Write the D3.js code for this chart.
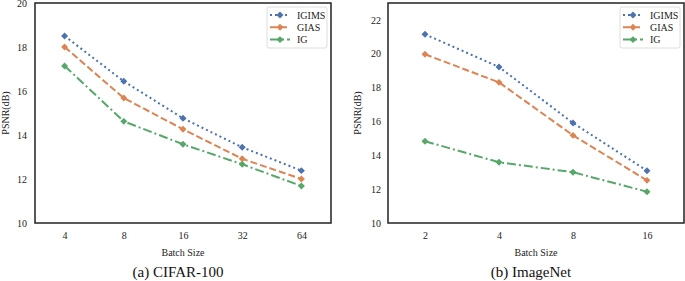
<!DOCTYPE html>
<html>
<head>
<meta charset="utf-8">
<script src="https://cdn.jsdelivr.net/npm/d3@7"></script>
<style>
  body { margin: 0; background: #fff; }
  svg { display: block; }
</style>
</head>
<body>
<div id="chart"></div>
<script>
// data
const cifarBatch = ["4", "8", "16", "32", "64"];
const cifarIGIMS = [18.5, 16.44, 14.76, 13.44, 12.38];
const cifarGIAS = [18.0, 15.68, 14.26, 12.92, 12.0];
const cifarIG = [17.14, 14.62, 13.58, 12.67, 11.68];
const cifarTicks = [10, 12, 14, 16, 18, 20];

const imagenetBatch = ["2", "4", "8", "16"];
const imagenetIGIMS = [21.15, 19.22, 15.91, 13.09];
const imagenetGIAS = [19.97, 18.31, 15.18, 12.52];
const imagenetIG = [14.83, 13.59, 13.0, 11.85];
const imagenetTicks = [10, 12, 14, 16, 18, 20, 22];

const seriesNames = ["IGIMS", "GIAS", "IG"];
const seriesColors = ["#4C72B0", "#DD8452", "#55A868"];
const seriesDash = ["2,3", "7,3", "9,3,2,3"];

const W = 685, H = 281;
const font = "'Liberation Serif', 'Times New Roman', serif";

const svg = d3.select("#chart").append("svg")
    .attr("width", W)
    .attr("height", H);

function drawPanel(opts) {
    const g = svg.append("g");
    const left = opts.left, right = opts.right, top = 3, bottom = 223;

    const x = d3.scalePoint()
        .domain(opts.batch)
        .range([left, right])
        .padding(0.5);

    const y = d3.scaleLinear()
        .domain(opts.yDomain)
        .range([bottom, top]);

    // x tick labels
    const xAxis = g.append("g")
        .attr("transform", `translate(0,${bottom})`)
        .call(d3.axisBottom(x).tickSize(0).tickPadding(9));
    xAxis.select(".domain").remove();
    xAxis.selectAll("text")
        .style("font-family", font)
        .style("font-size", "10px")
        .style("fill", "#222");

    // y tick labels
    const yAxis = g.append("g")
        .attr("transform", `translate(${left},0)`)
        .call(d3.axisLeft(y).tickValues(opts.ticks).tickSize(0).tickPadding(opts.yPad));
    yAxis.select(".domain").remove();
    yAxis.selectAll("text")
        .style("font-family", font)
        .style("font-size", "10px")
        .style("fill", "#222");

    // series lines + markers
    const line = d3.line()
        .x((d, i) => x(opts.batch[i]))
        .y(d => y(d));

    const diamond = d3.symbol().type(d3.symbolSquare).size(24);

    opts.series.forEach((vals, k) => {
        g.append("path")
            .datum(vals)
            .attr("d", line)
            .attr("fill", "none")
            .attr("stroke", seriesColors[k])
            .attr("stroke-width", 2)
            .attr("stroke-dasharray", seriesDash[k]);

        g.selectAll(null)
            .data(vals)
            .enter().append("path")
            .attr("d", diamond)
            .attr("transform", (d, i) => `translate(${x(opts.batch[i])},${y(d)}) rotate(45)`)
            .attr("fill", seriesColors[k]);
    });

    // frame
    g.append("rect")
        .attr("x", left)
        .attr("y", top)
        .attr("width", right - left)
        .attr("height", bottom - top)
        .attr("fill", "none")
        .attr("stroke", "#222")
        .attr("stroke-width", 1.5);

    // legend
    const lg = g.append("g")
        .attr("transform", `translate(${right - 64},7)`);
    lg.append("rect")
        .attr("width", 60)
        .attr("height", 41)
        .attr("rx", 2)
        .attr("fill", "#fff")
        .attr("stroke", "#d6d6d6")
        .attr("stroke-width", 0.8);
    seriesNames.forEach((name, k) => {
        const ly = 8 + k * 12.3;
        lg.append("line")
            .attr("x1", 3).attr("x2", 23)
            .attr("y1", ly).attr("y2", ly)
            .attr("stroke", seriesColors[k])
            .attr("stroke-width", 2)
            .attr("stroke-dasharray", seriesDash[k]);
        lg.append("path")
            .attr("d", diamond)
            .attr("transform", `translate(13,${ly}) rotate(45)`)
            .attr("fill", seriesColors[k]);
        lg.append("text")
            .attr("x", 30)
            .attr("y", ly + 3.5)
            .style("font-family", font)
            .style("font-size", "10px")
            .style("fill", "#222")
            .text(name);
    });

    // axis titles
    g.append("text")
        .attr("x", (left + right) / 2)
        .attr("y", 256)
        .attr("text-anchor", "middle")
        .style("font-family", font)
        .style("font-size", "10px")
        .style("fill", "#222")
        .text("Batch Size");

    g.append("text")
        .attr("transform", `translate(${opts.yLabelX},${(top + bottom) / 2}) rotate(-90)`)
        .attr("text-anchor", "middle")
        .style("font-family", font)
        .style("font-size", "10px")
        .style("fill", "#222")
        .text("PSNR(dB)");

    // caption
    g.append("text")
        .attr("x", (left + right) / 2 - 5)
        .attr("y", 277)
        .attr("text-anchor", "middle")
        .style("font-family", font)
        .style("font-size", "15px")
        .style("fill", "#111")
        .text(opts.caption);
}

drawPanel({
    left: 35, right: 331,
    batch: cifarBatch,
    series: [cifarIGIMS, cifarGIAS, cifarIG],
    yDomain: [10, 20],
    ticks: cifarTicks,
    yPad: 8,
    yLabelX: 8.5,
    caption: "(a)  CIFAR-100"
});

drawPanel({
    left: 388, right: 684,
    batch: imagenetBatch,
    series: [imagenetIGIMS, imagenetGIAS, imagenetIG],
    yDomain: [10, 23],
    ticks: imagenetTicks,
    yPad: 7,
    yLabelX: 360.5,
    caption: "(b)  ImageNet"
});
</script>
</body>
</html>
